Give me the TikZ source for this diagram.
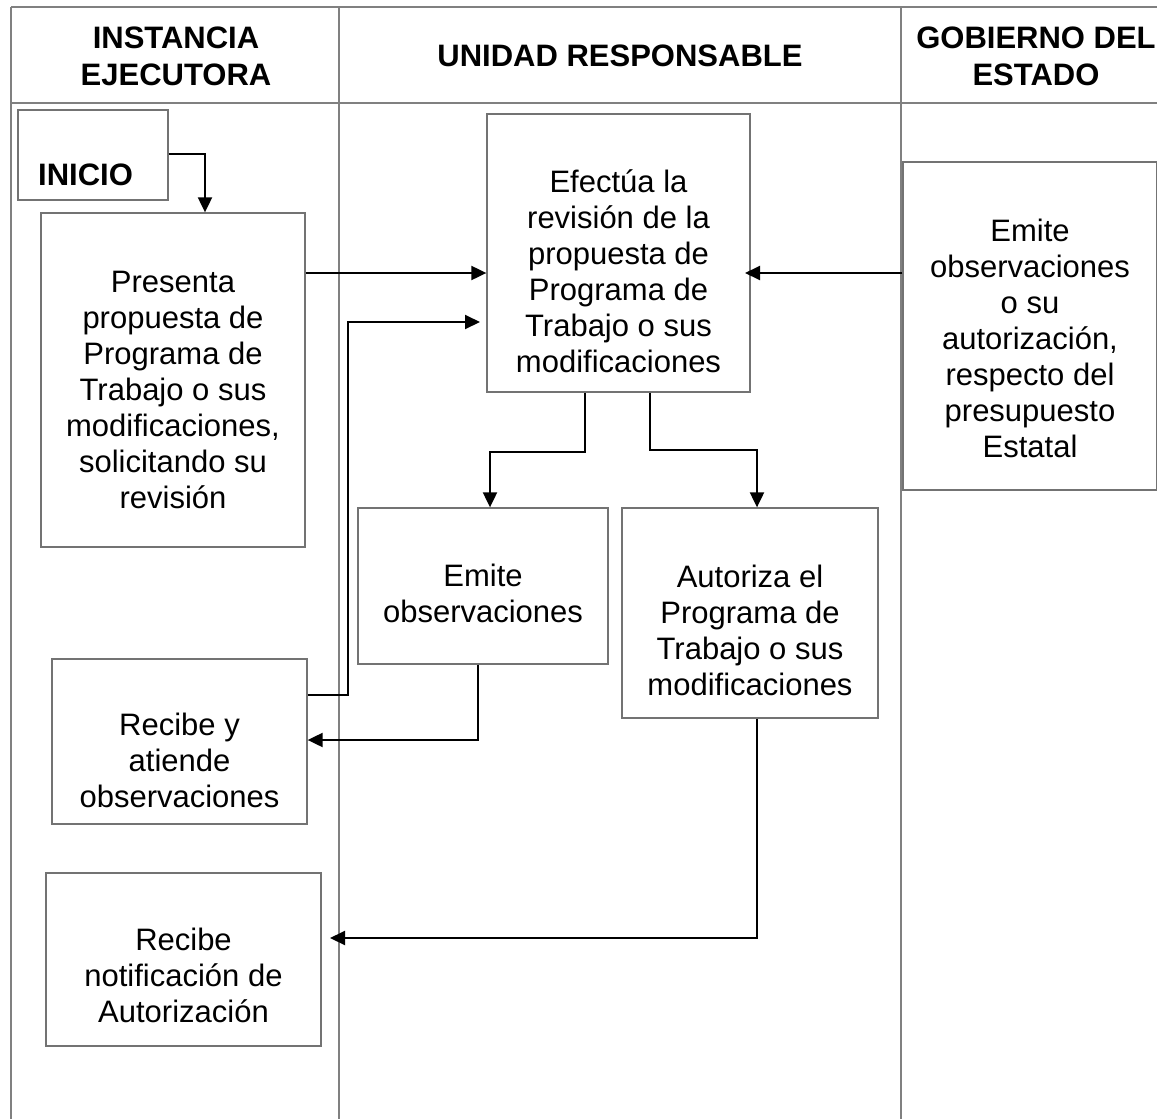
\documentclass[tikz,border=0pt]{standalone}
\usepackage{fontspec}
\setmainfont{Liberation Sans}
\usetikzlibrary{arrows.meta}
\begin{document}
\begin{tikzpicture}[x=1pt,y=-1pt,
  lane/.style={draw=black!50, line width=1.3pt},
  box/.style={draw=black!55, line width=1.3pt, inner sep=0pt},
  txt/.style={font=\fontsize{31}{36}\selectfont, align=center, inner sep=0pt},
  hdr/.style={font=\fontsize{31}{37}\selectfont\bfseries, align=center, inner sep=0pt},
  flow/.style={draw=black, line width=2pt, -{Triangle[length=15pt,width=14pt]}}]
\useasboundingbox (0,0) rectangle (1157,1119);
\fill[white] (0,0) rectangle (1157,1119);
% lanes
\draw[lane] (11,7) -- (1157,7);
\draw[lane] (11,103) -- (1157,103);
\draw[lane] (11,7) -- (11,1119);
\draw[lane] (339,7) -- (339,1119);
\draw[lane] (901,7) -- (901,1119);
% headers
\node[hdr] (h1) at (176,56) {INSTANCIA\\EJECUTORA};
\node[hdr] (h2) at (620,56) {UNIDAD RESPONSABLE};
\node[hdr] (h3) at (1036,56) {GOBIERNO DEL\\ESTADO};
% boxes
\node[box, minimum width=150pt, minimum height=90pt] (inicio) at (93,155) {};
\node[font=\fontsize{31}{34}\selectfont\bfseries, anchor=west, inner sep=0pt] (inicioT) at (38,175) {INICIO};
\node[box, minimum width=264pt, minimum height=334pt] (presenta) at (173,380) {};
\node[txt] (presentaT) at (173,390) {Presenta\\propuesta de\\Programa de\\Trabajo o sus\\modificaciones,\\solicitando su\\revisión};
\node[box, minimum width=263pt, minimum height=278pt] (efectua) at (618.5,253) {};
\node[txt] (efectuaT) at (618.5,271) {Efectúa la\\revisión de la\\propuesta de\\Programa de\\Trabajo o sus\\modificaciones};
\node[box, minimum width=254pt, minimum height=328pt] (gob) at (1030,326) {};
\node[txt] (gobT) at (1030,338) {Emite\\observaciones\\o su\\autorización,\\respecto del\\presupuesto\\Estatal};
\node[box, minimum width=250pt, minimum height=156pt] (emite) at (483,586) {};
\node[txt] (emiteT) at (483,593) {Emite\\observaciones};
\node[box, minimum width=256pt, minimum height=210pt] (autoriza) at (750,613) {};
\node[txt] (autorizaT) at (750,630) {Autoriza el\\Programa de\\Trabajo o sus\\modificaciones};
\node[box, minimum width=255pt, minimum height=165pt] (recibe) at (179.5,741.5) {};
\node[txt] (recibeT) at (179.5,760) {Recibe y\\atiende\\observaciones};
\node[box, minimum width=275pt, minimum height=173pt] (notif) at (183.5,959.5) {};
\node[txt] (notifT) at (183.5,975) {Recibe\\notificación de\\Autorización};
% connectors
\draw[flow] (inicio.east |- 0,154) -- (205,154) -- (205,0 |- presenta.north);
\draw[flow] (presenta.east |- 0,273) -- (efectua.west |- 0,273);
\draw[flow] (gob.west |- 0,273) -- (745,273);
\draw[flow] (recibe.east |- 0,695) -- (348,695) -- (348,322) -- (480,322);
\draw[flow] (585,0 |- efectua.south) -- (585,452) -- (490,452) -- (490,0 |- emite.north);
\draw[flow] (650,0 |- efectua.south) -- (650,450) -- (757,450) -- (757,0 |- autoriza.north);
\draw[flow] (478,0 |- emite.south) -- (478,740) -- (recibe.east |- 0,740);
\draw[flow] (757,0 |- autoriza.south) -- (757,938) -- (330,938);
\end{tikzpicture}
\end{document}
